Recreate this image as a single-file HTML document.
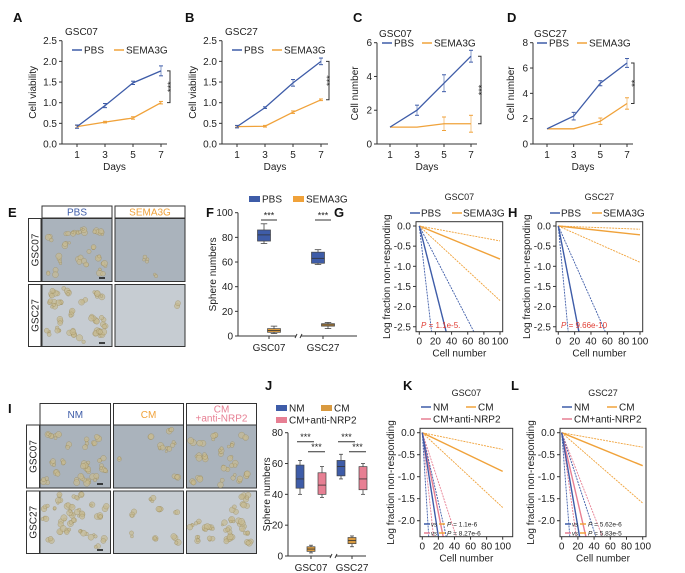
<!DOCTYPE html>
<html><head><meta charset="utf-8"><style>
html,body{margin:0;padding:0;background:#fff;}
svg{display:block;font-family:"Liberation Sans",Arial,sans-serif;}
</style></head><body>
<svg id="fig" width="685" height="573" viewBox="0 0 685 573" xmlns="http://www.w3.org/2000/svg"></svg>
<script>
// ---- Data ----
const days = [1, 3, 5, 7];
const A_pbs = [0.42, 0.93, 1.48, 1.77];
const A_pbsErr = [0.04, 0.05, 0.04, 0.12];
const A_sema = [0.42, 0.53, 0.63, 1.0];
const A_semaErr = [0.03, 0.02, 0.03, 0.03];
const B_pbs = [0.42, 0.88, 1.48, 2.0];
const B_pbsErr = [0.03, 0.02, 0.08, 0.08];
const B_sema = [0.42, 0.43, 0.77, 1.07];
const B_semaErr = [0.02, 0.02, 0.03, 0.02];
const C_pbs = [1, 2, 3.6, 5.2];
const C_pbsErr = [0, 0.3, 0.5, 0.35];
const C_sema = [1, 1, 1.2, 1.2];
const C_semaErr = [0, 0, 0.4, 0.5];
const D_pbs = [1.2, 2.2, 4.8, 6.4];
const D_pbsErr = [0, 0.3, 0.2, 0.35];
const D_sema = [1.2, 1.2, 1.8, 3.2];
const D_semaErr = [0, 0, 0.25, 0.45];
const ticksViab = [0, 0.5, 1.0, 1.5, 2.0, 2.5];
const ticksC = [0, 2, 4, 6];
const ticksD = [0, 2, 4, 6, 8];
// box stats: [whiskerLow, q1, median, q3, whiskerHigh]
const F_cats = ["GSC07", "GSC27"];
const F_pbs = [[75, 77, 82, 86, 91], [58, 59, 63, 68, 70]];
const F_sema = [[2, 3, 4.5, 6, 8], [6, 8, 9, 10, 11]];
const F_ticks = [0, 20, 40, 60, 80, 100];
const J_cats = ["GSC07", "GSC27"];
const J_nm = [[40, 44, 50, 59, 62], [50, 52, 58, 62, 66]];
const J_cm = [[2, 3, 4.5, 6, 7], [6, 8, 10, 12, 13]];
const J_anti = [[38, 40, 46, 54, 58], [40, 43, 50, 58, 60]];
const J_ticks = [0, 20, 40, 60, 80];
// limiting dilution slopes (log fraction per cell): [estimate, lower, upper]
const G_pbs = [-0.0788, -0.173, -0.0388];
const G_sema = [-0.0082, -0.0037, -0.0185];
const H_pbs = [-0.104, -0.217, -0.0456];
const H_sema = [-0.0022, -0.0008, -0.009];
const K_nm = [-0.118, -0.295, -0.079];
const K_cm = [-0.0088, -0.0038, -0.017];
const K_anti = [-0.091, -0.169, -0.056];
const L_nm = [-0.107, -0.236, -0.056];
const L_cm = [-0.0075, -0.0033, -0.016];
const L_anti = [-0.079, -0.131, -0.047];
const ldaXTicks = [0, 20, 40, 60, 80, 100];
const ldaYTicksGH = [0, -0.5, -1.0, -1.5, -2.0, -2.5];
const ldaYTicksKL = [0, -0.5, -1.0, -1.5, -2.0];

const BLUE = "#3e5ca8", ORANGE = "#f0a23a", PINK = "#e77f93";
const NS = "http://www.w3.org/2000/svg";
const svg = document.getElementById("fig");

function add(parent, tag, attrs, name, text) {
  const el = document.createElementNS(NS, tag);
  for (const k in attrs) el.setAttribute(k, attrs[k]);
  
  
  if (text !== undefined) el.textContent = text;
  parent.appendChild(el);
  return el;
}
function txt(p, x, y, s, name, o) {
  o = o || {};
  const a = {x: x, y: y, "font-size": o.size || 10, fill: o.fill || "#222", "text-anchor": o.anchor || "middle"};
  if (o.weight) a["font-weight"] = o.weight;
  if (o.rot) a.transform = "rotate(-90 " + x + " " + y + ")";
  if (o.style) a["font-style"] = o.style;
  return add(p, "text", a, name, s);
}
function line(p, x1, y1, x2, y2, c, w, name, dash) {
  const a = {x1: x1, y1: y1, x2: x2, y2: y2, stroke: c, "stroke-width": w};
  if (dash) a["stroke-dasharray"] = dash;
  return add(p, "line", a, name);
}

// panel letters
[["A",13,22],["B",185,22],["C",353,22],["D",507,22],["E",8,217],["F",206,217],["G",334,217],["H",508,217],
 ["I",8,413],["J",265,390],["K",403,390],["L",511,390]].forEach(l => {
  txt(svg, l[1], l[2], l[0], "panel-letter-" + l[0].toLowerCase(), {size: 13, weight: "bold", anchor: "start", fill: "#111"});
});

// ---- Line charts ----
function lineChart(c) {
  const g = add(svg, "g", {}, c.name);
  const xs = d => c.x1 + (d - 1) * (c.x7 - c.x1) / 6;
  const ys = v => c.y0 - v * (c.y0 - c.yTop) / c.ymax;
  line(g, c.ax, c.yTop, c.ax, c.y0, "#333", 1, "y-axis");
  line(g, c.ax, c.y0, c.axEnd, c.y0, "#333", 1, "x-axis");
  c.yticks.forEach(t => {
    line(g, c.ax - 3, ys(t), c.ax, ys(t), "#333", 1, "y-tick");
    txt(g, c.ax - 5, ys(t) + 3.5, c.dec ? t.toFixed(1) : String(t), "y-tick-label", {anchor: "end"});
  });
  days.forEach(d => {
    line(g, xs(d), c.y0, xs(d), c.y0 + 3, "#333", 1, "x-tick");
    txt(g, xs(d), c.y0 + 14, String(d), "x-tick-label");
  });
  txt(g, (c.ax + c.axEnd) / 2, c.y0 + 26, "Days", "x-axis-title");
  txt(g, c.ylx, (c.yTop + c.y0) / 2, c.ylabel, "y-axis-title", {rot: true});
  txt(g, c.tx, c.ty, c.title, "chart-title", {anchor: "start"});
  [[c.s2, c.e2, ORANGE, "sema3g"], [c.s1, c.e1, BLUE, "pbs"]].forEach(s => {
    const pts = days.map((d, i) => xs(d) + "," + ys(s[0][i])).join(" ");
    add(g, "polyline", {points: pts, fill: "none", stroke: s[2], "stroke-width": 1.3}, "line-" + s[3]);
    days.forEach((d, i) => {
      if (s[1][i] > 0) {
        const x = xs(d);
        line(g, x, ys(s[0][i] - s[1][i]), x, ys(s[0][i] + s[1][i]), s[2], 1, "error-bar-" + s[3], null).setAttribute("opacity", "0.6");
        line(g, x - 2, ys(s[0][i] + s[1][i]), x + 2, ys(s[0][i] + s[1][i]), s[2], 1, "error-cap-" + s[3]);
        line(g, x - 2, ys(s[0][i] - s[1][i]), x + 2, ys(s[0][i] - s[1][i]), s[2], 1, "error-cap-" + s[3]);
      }
    });
  });
  line(g, c.lg[0], c.ly, c.lg[0] + 10, c.ly, BLUE, 1.5, "legend-line-pbs");
  txt(g, c.lg[0] + 12, c.ly + 3.5, "PBS", "legend-label-pbs", {anchor: "start"});
  line(g, c.lg[1], c.ly, c.lg[1] + 10, c.ly, ORANGE, 1.5, "legend-line-sema3g");
  txt(g, c.lg[1] + 12, c.ly + 3.5, "SEMA3G", "legend-label-sema3g", {anchor: "start"});
  const bt = ys(c.s1[3]), bb = ys(c.s2[3]);
  add(g, "polyline", {points: (c.bx - 3) + "," + bt + " " + c.bx + "," + bt + " " + c.bx + "," + bb + " " + (c.bx - 3) + "," + bb, fill: "none", stroke: "#333", "stroke-width": 1}, "significance-bracket");
  txt(g, c.bx + 4, (bt + bb) / 2, c.sig, "significance-stars", {rot: true, size: 9});
}
lineChart({name: "panel-a-chart", ax: 62, x1: 77, x7: 161, axEnd: 167, y0: 144, yTop: 40.7, ymax: 2.5, yticks: ticksViab, dec: true,
  s1: A_pbs, e1: A_pbsErr, s2: A_sema, e2: A_semaErr, ylabel: "Cell viability", ylx: 36, title: "GSC07", tx: 65, ty: 35, lg: [72, 114], ly: 50, bx: 170, sig: "***"});
lineChart({name: "panel-b-chart", ax: 222, x1: 237, x7: 321, axEnd: 328, y0: 144, yTop: 40.7, ymax: 2.5, yticks: ticksViab, dec: true,
  s1: B_pbs, e1: B_pbsErr, s2: B_sema, e2: B_semaErr, ylabel: "Cell viability", ylx: 196, title: "GSC27", tx: 225, ty: 35, lg: [232, 272], ly: 50, bx: 329, sig: "***"});
lineChart({name: "panel-c-chart", ax: 377, x1: 390, x7: 471, axEnd: 477, y0: 144, yTop: 42.7, ymax: 6, yticks: ticksC,
  s1: C_pbs, e1: C_pbsErr, s2: C_sema, e2: C_semaErr, ylabel: "Cell number", ylx: 358, title: "GSC07", tx: 379, ty: 37, lg: [382, 422], ly: 43, bx: 481, sig: "***"});
lineChart({name: "panel-d-chart", ax: 533, x1: 547, x7: 627, axEnd: 633, y0: 144, yTop: 42.7, ymax: 8, yticks: ticksD,
  s1: D_pbs, e1: D_pbsErr, s2: D_sema, e2: D_semaErr, ylabel: "Cell number", ylx: 514, title: "GSC27", tx: 534, ty: 37, lg: [537, 577], ly: 43, bx: 634, sig: "**"});

// ---- Box charts ----
function boxChart(c) {
  const g = add(svg, "g", {}, c.name);
  const ys = v => c.y0 - v * (c.y0 - c.yTop) / c.ymax;
  line(g, c.ax, c.yTop, c.ax, c.y0, "#333", 1, "y-axis");
  line(g, c.ax, c.y0, c.brk - 2, c.y0, "#333", 1, "x-axis-left");
  line(g, c.brk + 3, c.y0, c.axEnd, c.y0, "#333", 1, "x-axis-right");
  line(g, c.brk - 3, c.y0 + 2, c.brk - 1, c.y0 - 2, "#333", 1, "axis-break");
  line(g, c.brk + 2, c.y0 + 2, c.brk + 4, c.y0 - 2, "#333", 1, "axis-break");
  c.ticks.forEach(t => {
    line(g, c.ax - 3, ys(t), c.ax, ys(t), "#333", 1, "y-tick");
    txt(g, c.ax - 5, ys(t) + 3.5, String(t), "y-tick-label", {anchor: "end"});
  });
  txt(g, c.ylx, (c.yTop + c.y0) / 2, "Sphere numbers", "y-axis-title", {rot: true});
  c.cats.forEach((cat, ci) => {
    const cx = c.cx[ci];
    line(g, cx, c.y0, cx, c.y0 + 3, "#333", 1, "x-tick");
    txt(g, cx, c.y0 + 15, cat, "x-tick-label");
    c.series.forEach((s, si) => {
      const b = s.data[ci];
      const x = cx + s.off;
      const w = c.bw;
      line(g, x, ys(b[0]), x, ys(b[4]), "#444", 0.8, "whisker-" + s.key);
      line(g, x - w / 4, ys(b[4]), x + w / 4, ys(b[4]), "#444", 0.8, "whisker-cap-" + s.key);
      line(g, x - w / 4, ys(b[0]), x + w / 4, ys(b[0]), "#444", 0.8, "whisker-cap-" + s.key);
      add(g, "rect", {x: x - w / 2, y: ys(b[3]), width: w, height: ys(b[1]) - ys(b[3]), fill: s.color, stroke: "#444", "stroke-width": 0.7}, "box-" + s.key + "-" + cat.toLowerCase());
      line(g, x - w / 2, ys(b[2]), x + w / 2, ys(b[2]), "#333", 0.8, "median-" + s.key);
    });
    c.sigs.forEach(sg => {
      const x1 = cx + c.series[sg[0]].off, x2 = cx + c.series[sg[1]].off;
      line(g, x1 - 3, sg[2], x2 + 3, sg[2], "#333", 1, "significance-line");
      txt(g, (x1 + x2) / 2, sg[2] - 1.5, "***", "significance-stars", {size: 9});
    });
  });
  return g;
}
const gF = boxChart({name: "panel-f-chart", ax: 238, y0: 336, yTop: 212.7, ymax: 100, ticks: F_ticks, brk: 298, axEnd: 357, ylx: 216, cats: F_cats, cx: [269, 323], bw: 13,
  series: [{key: "pbs", data: F_pbs, color: BLUE, off: -5}, {key: "sema3g", data: F_sema, color: "#d99a3f", off: 5}],
  sigs: [[0, 1, 220]]});
add(gF, "rect", {x: 249, y: 196, width: 11, height: 6, fill: BLUE}, "legend-swatch-pbs");
txt(gF, 262, 202.5, "PBS", "legend-label-pbs", {anchor: "start"});
add(gF, "rect", {x: 293, y: 196, width: 11, height: 6, fill: ORANGE}, "legend-swatch-sema3g");
txt(gF, 306, 202.5, "SEMA3G", "legend-label-sema3g", {anchor: "start"});

const gJ = boxChart({name: "panel-j-chart", ax: 288, y0: 556, yTop: 432.7, ymax: 80, ticks: J_ticks, brk: 333, axEnd: 366, ylx: 270, cats: J_cats, cx: [311, 352], bw: 8,
  series: [{key: "nm", data: J_nm, color: BLUE, off: -11}, {key: "cm", data: J_cm, color: "#d99a3f", off: 0}, {key: "cm-anti-nrp2", data: J_anti, color: PINK, off: 11}],
  sigs: [[0, 1, 441.7], [1, 2, 451.7]]});
add(gJ, "rect", {x: 276, y: 405, width: 11, height: 6, fill: BLUE}, "legend-swatch-nm");
txt(gJ, 289, 411.5, "NM", "legend-label-nm", {anchor: "start"});
add(gJ, "rect", {x: 321, y: 405, width: 11, height: 6, fill: "#d99a3f"}, "legend-swatch-cm");
txt(gJ, 334, 411.5, "CM", "legend-label-cm", {anchor: "start"});
add(gJ, "rect", {x: 276, y: 417, width: 11, height: 6, fill: PINK}, "legend-swatch-cm-anti-nrp2");
txt(gJ, 289, 423.5, "CM+anti-NRP2", "legend-label-cm-anti-nrp2", {anchor: "start"});

// ---- Limiting dilution charts ----
function ldaChart(c) {
  const g = add(svg, "g", {}, c.name);
  const xs = v => c.x0 + v * (c.x100 - c.x0) / 100;
  const ys = v => c.yZero + (-v) * c.ppu;
  const bot = c.bottom, top = c.top;
  const clipId = "clip-" + c.name;
  const cp = add(g, "clipPath", {id: clipId}, "clip");
  add(cp, "rect", {x: c.left, y: top, width: c.right - c.left, height: bot - top}, "clip-rect");
  const lg = add(g, "g", {"clip-path": "url(#" + clipId + ")"}, "lines");
  c.series.forEach(s => {
    s.slopes.forEach((sl, i) => {
      let xe = 100, ye = sl * 100;
      const ymin = (c.yZero - bot) / c.ppu;
      if (ye < ymin) { ye = ymin; xe = ymin / sl; }
      line(lg, xs(0), ys(0), xs(xe), ys(ye), s.color, i === 0 ? 1.4 : 0.9, "lda-line-" + s.key + (i === 0 ? "-estimate" : "-ci"), i === 0 ? null : "2,1");
    });
  });
  add(g, "rect", {x: c.left, y: top, width: c.right - c.left, height: bot - top, fill: "none", stroke: "#333", "stroke-width": 1}, "plot-frame");
  c.yticks.forEach(t => {
    line(g, c.left - 3, ys(t), c.left, ys(t), "#333", 1, "y-tick");
    txt(g, c.left - 5, ys(t) + 3.5, t.toFixed(1), "y-tick-label", {anchor: "end"});
  });
  ldaXTicks.forEach(t => {
    line(g, xs(t), bot, xs(t), bot + 3, "#333", 1, "x-tick");
    txt(g, xs(t), bot + 13, String(t), "x-tick-label");
  });
  txt(g, (c.left + c.right) / 2, bot + 25, "Cell number", "x-axis-title");
  txt(g, c.left - 26, (top + bot) / 2, "Log fraction non-responding", "y-axis-title", {rot: true});
  txt(g, (c.left + c.right) / 2, c.ty, c.title, "chart-title", {size: 9});
  return g;
}
const gG = ldaChart({name: "panel-g-chart", left: 416, right: 502.7, top: 221.7, bottom: 331.7, x0: 419.3, x100: 500, yZero: 226, ppu: 40.3, yticks: ldaYTicksGH, title: "GSC07", ty: 200,
  series: [{key: "sema3g", color: ORANGE, slopes: G_sema}, {key: "pbs", color: BLUE, slopes: G_pbs}]});
const gH = ldaChart({name: "panel-h-chart", left: 556, right: 642.7, top: 221.7, bottom: 331.7, x0: 558.3, x100: 640, yZero: 226, ppu: 40.3, yticks: ldaYTicksGH, title: "GSC27", ty: 200,
  series: [{key: "sema3g", color: ORANGE, slopes: H_sema}, {key: "pbs", color: BLUE, slopes: H_pbs}]});
[[gG, 410, 452, "1.1e-5."], [gH, 550, 592, "9.66e-10"]].forEach(p => {
  line(p[0], p[1], 213, p[1] + 10, 213, BLUE, 1.5, "legend-line-pbs");
  txt(p[0], p[1] + 11, 216.5, "PBS", "legend-label-pbs", {anchor: "start"});
  line(p[0], p[2], 213, p[2] + 10, 213, ORANGE, 1.5, "legend-line-sema3g");
  txt(p[0], p[2] + 11, 216.5, "SEMA3G", "legend-label-sema3g", {anchor: "start"});
  const t = txt(p[0], p[1] + 11, 328, "", "p-value", {anchor: "start", size: 8, fill: "#e03c32"});
  t.innerHTML = '<tspan font-style="italic">P</tspan> = ' + p[3];
});
const gK = ldaChart({name: "panel-k-chart", left: 420, right: 512.7, top: 428.3, bottom: 536.7, x0: 422.3, x100: 502.7, yZero: 432.7, ppu: 44, yticks: ldaYTicksKL, title: "GSC07", ty: 396,
  series: [{key: "cm", color: ORANGE, slopes: K_cm}, {key: "cm-anti-nrp2", color: PINK, slopes: K_anti}, {key: "nm", color: BLUE, slopes: K_nm}]});
const gL = ldaChart({name: "panel-l-chart", left: 560, right: 646, top: 428.3, bottom: 536.7, x0: 561.7, x100: 642.7, yZero: 432.7, ppu: 44, yticks: ldaYTicksKL, title: "GSC27", ty: 396,
  series: [{key: "cm", color: ORANGE, slopes: L_cm}, {key: "cm-anti-nrp2", color: PINK, slopes: L_anti}, {key: "nm", color: BLUE, slopes: L_nm}]});
[[gK, 421, ["1.1e-6", "8.27e-6"]], [gL, 562, ["5.62e-6", "5.83e-5"]]].forEach(p => {
  const x = p[1];
  line(p[0], x, 407, x + 10, 407, BLUE, 1.5, "legend-line-nm");
  txt(p[0], x + 12, 410.5, "NM", "legend-label-nm", {anchor: "start"});
  line(p[0], x + 45, 407, x + 55, 407, ORANGE, 1.5, "legend-line-cm");
  txt(p[0], x + 57, 410.5, "CM", "legend-label-cm", {anchor: "start"});
  line(p[0], x, 419, x + 10, 419, PINK, 1.5, "legend-line-cm-anti-nrp2");
  txt(p[0], x + 12, 422.5, "CM+anti-NRP2", "legend-label-cm-anti-nrp2", {anchor: "start"});
  [[BLUE, 524], [PINK, 533]].forEach((r, i) => {
    line(p[0], x + 3, r[1], x + 9, r[1], r[0], 1.5, "pvalue-key-line");
    txt(p[0], x + 10, r[1] + 2.5, "vs", "pvalue-vs", {anchor: "start", size: 6, style: "italic"});
    line(p[0], x + 18, r[1], x + 24, r[1], ORANGE, 1.5, "pvalue-key-line");
    const t = txt(p[0], x + 26, r[1] + 2.5, "", "p-value", {anchor: "start", size: 6.5});
    t.innerHTML = '<tspan font-style="italic">P</tspan> = ' + p[2][i];
  });
});

// ---- Micrograph panels ----
let seed = 7;
function rnd() { seed = (seed * 16807) % 2147483647; return seed / 2147483647; }
function micro(x, y, w, h, n, name, light) {
  const g = add(svg, "g", {}, name);
  add(g, "rect", {x: x, y: y, width: w, height: h, fill: light ? "#c6ccd2" : "#aab3bc", stroke: "#333", "stroke-width": 1}, "micrograph-background");
  for (let i = 0; i < n; i++) {
    const cx = x + 5 + rnd() * (w - 10), cy = y + 5 + rnd() * (h - 10);
    const k = 2 + Math.floor(rnd() * 3);
    for (let j = 0; j < k; j++) {
      const r = 1.2 + rnd() * 2;
      add(g, "circle", {cx: cx + (rnd() - 0.5) * 5, cy: cy + (rnd() - 0.5) * 5, r: r, fill: "#c7bb93", stroke: "#9c8c5c", "stroke-width": 0.5, opacity: 0.7}, "sphere");
    }
  }
  return g;
}
function header(x, y, w, h, label, color, name) {
  const g = add(svg, "g", {}, name);
  add(g, "rect", {x: x, y: y, width: w, height: h, fill: "#fff", stroke: "#333", "stroke-width": 1}, "header-box");
  if (Array.isArray(label)) {
    txt(g, x + w / 2, y + 9, label[0], "header-label", {fill: color});
    txt(g, x + w / 2, y + 18, label[1], "header-label", {fill: color});
  } else txt(g, x + w / 2, y + h / 2 + 3.5, label, "header-label", {fill: color});
}
function rowLabel(x, y, w, h, label, name) {
  const g = add(svg, "g", {}, name);
  add(g, "rect", {x: x, y: y, width: w, height: h, fill: "#fff", stroke: "#333", "stroke-width": 1}, "row-label-box");
  txt(g, x + w / 2 + 3.5, y + h / 2, label, "row-label", {rot: true});
}
header(42, 206, 70, 12, "PBS", BLUE, "header-pbs");
header(115, 206, 70, 12, "SEMA3G", ORANGE, "header-sema3g");
rowLabel(28.5, 218.5, 12.5, 63, "GSC07", "row-gsc07");
rowLabel(28.5, 284.5, 12.5, 62, "GSC27", "row-gsc27");
micro(42, 218.5, 70, 63, 18, "micrograph-pbs-gsc07");
micro(115, 218.5, 70, 63, 2, "micrograph-sema3g-gsc07");
micro(42, 284.5, 70, 62, 28, "micrograph-pbs-gsc27", true);
micro(115, 284.5, 70, 62, 1, "micrograph-sema3g-gsc27", true);
header(40, 403.5, 70.5, 21.5, "NM", BLUE, "header-nm");
header(113.5, 403.5, 70, 21.5, "CM", ORANGE, "header-cm");
header(186.5, 403.5, 70, 21.5, ["CM", "+anti-NRP2"], PINK, "header-cm-anti-nrp2");
rowLabel(26.5, 425, 13, 63, "GSC07", "row-gsc07-i");
rowLabel(26.5, 491, 13, 62.5, "GSC27", "row-gsc27-i");
micro(40, 425, 70.5, 63, 22, "micrograph-nm-gsc07");
micro(113.5, 425, 70, 63, 7, "micrograph-cm-gsc07");
micro(186.5, 425, 70, 63, 18, "micrograph-anti-gsc07");
micro(40, 491, 70.5, 62.5, 26, "micrograph-nm-gsc27", true);
micro(113.5, 491, 70, 62.5, 8, "micrograph-cm-gsc27", true);
micro(186.5, 491, 70, 62.5, 20, "micrograph-anti-gsc27", true);
[[99, 278], [99, 343], [97, 484], [97, 550]].forEach(s => line(svg, s[0], s[1], s[0] + 6, s[1], "#111", 1.5, "scale-bar"));
</script>
</body></html>
